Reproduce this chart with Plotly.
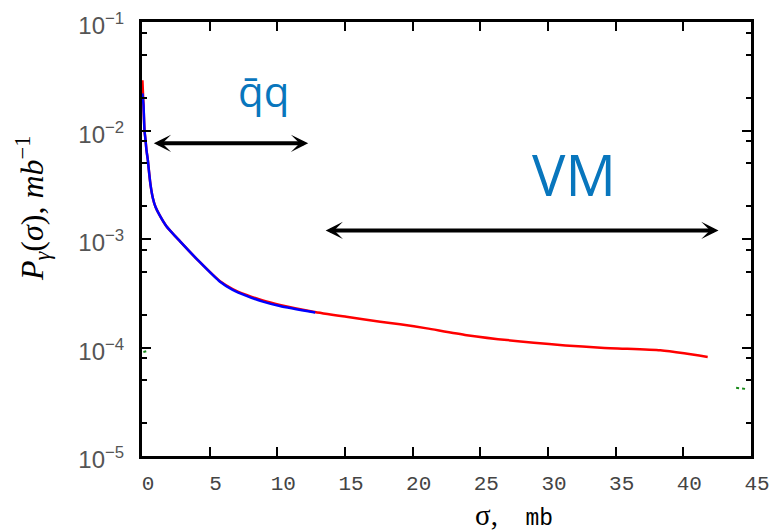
import numpy as np
import plotly.graph_objects as go

# ---- data ----
red_x = [0.03, 0.11, 0.185, 0.26, 0.33, 0.43, 0.52, 0.63, 0.80, 1.0, 1.30, 1.79, 2.78, 4.26, 5.74, 6.70,
         7.72, 8.93, 10.19, 12.65, 15.1, 17.6, 19.07, 21.05, 24.0, 28.95, 33.9, 38.3, 40.06, 41.8]
red_y = [2.9e-2, 1.72e-2, 1.0e-2, 8.17e-3, 6.6e-3, 5.35e-3, 4.15e-3, 3.15e-3, 2.39e-3, 1.97e-3, 1.66e-3,
         1.32e-3, 9.6e-4, 6.14e-4, 4.10e-4, 3.46e-4, 3.05e-4, 2.71e-4, 2.47e-4, 2.14e-4, 1.92e-4, 1.73e-4,
         1.64e-4, 1.50e-4, 1.30e-4, 1.107e-4, 9.96e-5, 9.42e-5, 8.84e-5, 8.18e-5]

blue_x = [0.03, 0.11, 0.185, 0.26, 0.33, 0.43, 0.52, 0.63, 0.80, 1.0, 1.30, 1.79, 2.78, 4.26, 5.74, 6.70,
          7.72, 8.93, 10.19, 12.8]
blue_y = [2.2e-2, 1.72e-2, 1.0e-2, 8.17e-3, 6.6e-3, 5.35e-3, 4.15e-3, 3.15e-3, 2.39e-3, 1.97e-3, 1.66e-3,
          1.32e-3, 9.6e-4, 6.14e-4, 4.06e-4, 3.40e-4, 2.99e-4, 2.65e-4, 2.41e-4, 2.10e-4]

green_x = [0.1, 0.4, None, 43.9, 44.6]
green_y = [9.1e-5, 9.3e-5, None, 4.25e-5, 4.15e-5]

x_ticks = [0, 5, 10, 15, 20, 25, 30, 35, 40, 45]
y_ticks = [1e-5, 1e-4, 1e-3, 1e-2, 1e-1]
y_ticktext = ["10<sup>\u22125</sup>", "10<sup>\u22124</sup>", "10<sup>\u22123</sup>",
              "10<sup>\u22122</sup>", "10<sup>\u22121</sup>"]
y_minor = [m * 10.0 ** e for e in range(-5, -1) for m in (2, 5, 8)]

qq_arrow = (0.76, 12.28, 7.62e-3)
vm_arrow = (13.46, 42.6, 1.2e-3)

fig = go.Figure()
fig.add_trace(go.Scatter(x=red_x, y=red_y, mode="lines",
                         line=dict(color="#ff0000", width=2.5, shape="spline", smoothing=0.6),
                         showlegend=False))
fig.add_trace(go.Scatter(x=blue_x, y=blue_y, mode="lines",
                         line=dict(color="#0000ff", width=2.5, shape="spline", smoothing=0.6),
                         showlegend=False))
fig.add_trace(go.Scatter(x=green_x, y=green_y, mode="lines", line=dict(color="#1a8a1a", width=2, dash="dot"),
                         showlegend=False, connectgaps=False))

blue = "#0876BD"
ann = []
for (x0, x1, yv) in (qq_arrow, vm_arrow):
    ann.append(dict(x=x1, y=np.log10(yv), ax=x0, ay=np.log10(yv), xref="x", yref="y", axref="x", ayref="y",
                    text="", showarrow=True, arrowhead=3, startarrowhead=3, arrowside="end+start",
                    arrowwidth=4, arrowsize=0.72, startarrowsize=0.72, arrowcolor="black", standoff=0,
                    startstandoff=0))
ann.append(dict(x=9.0, y=-1.63, xref="x", yref="y", text="q\u0304q", showarrow=False,
                font=dict(family="Open Sans", size=42, color=blue)))
ann.append(dict(x=31.95, y=-2.40, xref="x", yref="y", text="VM", showarrow=False,
                font=dict(family="Open Sans", size=56, color=blue)))
ann.append(dict(x=33, y=209, xref="paper", yref="paper", textangle=-90, showarrow=False,
                xanchor="center", yanchor="middle",
                text="<i>P</i><sub><i>\u03b3</i></sub>(<i>\u03c3</i>), <i>mb</i><sup>\u22121</sup>",
                font=dict(family="Liberation Serif", size=32, color="black")))
ann.append(dict(x=514, y=515, xref="paper", yref="paper", showarrow=False,
                xanchor="center", yanchor="middle",
                text="<span style='font-family:Liberation Serif;font-size:29px'>\u03c3,</span>\u00a0\u00a0mb",
                font=dict(family="Liberation Mono", size=23, color="black")))

# convert pixel positions of the two axis titles to paper coordinates
L, R, T, B = 142, 21, 22, 76
pw, ph = 772 - L - R, 532 - T - B
for a in ann[-2:]:
    a["x"] = (a["x"] - L) / pw
    a["y"] = (532 - B - a["y"]) / ph

fig.update_layout(
    width=772, height=532, margin=dict(l=L, r=R, t=T, b=B),
    paper_bgcolor="white", plot_bgcolor="white", annotations=ann,
)
fig.update_xaxes(range=[0, 45], tickvals=x_ticks, ticks="inside", ticklen=9, tickwidth=2, tickcolor="black",
                 showline=True, linewidth=3, linecolor="black", mirror="ticks", showgrid=False, zeroline=False,
                 tickfont=dict(family="Liberation Mono", size=21, color="#444"), ticklabelshift=6,
                 ticklabelstandoff=6, automargin=False)
fig.update_yaxes(type="log", range=[-5, -1], tickvals=y_ticks, ticktext=y_ticktext, ticks="inside", ticklen=9,
                 tickwidth=2, tickcolor="black", showline=True, linewidth=3, linecolor="black", mirror="ticks",
                 showgrid=False, zeroline=False,
                 minor=dict(tickvals=y_minor, ticks="inside", ticklen=5, tickwidth=2, tickcolor="black"),
                 tickfont=dict(family="Liberation Sans", size=24, color="#555"), ticklabelstandoff=10,
                 ticklabelshift=4, automargin=False)

fig.write_html("out.html")
